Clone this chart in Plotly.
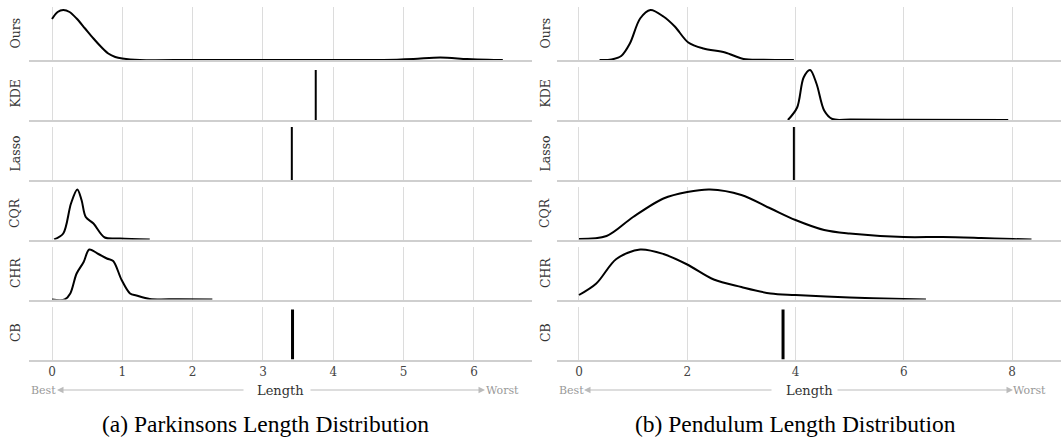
import plotly.graph_objects as go
from plotly.subplots import make_subplots

W, H = 1061, 443

methods = ["Ours", "KDE", "Lasso", "CQR", "CHR", "CB"]

# ---------- (a) Parkinsons ----------
a_ours_x = [0, 0.08, 0.16, 0.25, 0.35, 0.47, 0.59, 0.7, 0.8, 0.9, 1.0, 1.25, 2.0, 3.0, 4.0, 4.71, 5.14, 5.52, 5.9, 6.2, 6.41]
a_ours_y = [0.82, 0.96, 1.0, 0.96, 0.83, 0.63, 0.43, 0.26, 0.13, 0.06, 0.03, 0.0, 0, 0, 0, 0, 0.02, 0.05, 0.02, 0.005, 0]
a_kde_val = 3.75
a_lasso_val = 3.41
a_cqr_x = [0.03, 0.16, 0.27, 0.36, 0.42, 0.48, 0.59, 0.75, 0.97, 1.39]
a_cqr_y = [0, 0.12, 0.72, 1.0, 0.79, 0.45, 0.32, 0.04, 0.02, 0]
a_chr_x = [0, 0.18, 0.26, 0.35, 0.45, 0.53, 0.66, 0.78, 0.87, 0.99, 1.11, 1.2, 1.39, 1.8, 2.28]
a_chr_y = [0, 0.0, 0.12, 0.52, 0.75, 1.0, 0.91, 0.82, 0.77, 0.39, 0.12, 0.08, 0.01, 0.005, 0]
a_cb_val = 3.42
a_ticks = [0, 1, 2, 3, 4, 5, 6]

# ---------- (b) Pendulum ----------
b_ours_x = [0.38, 0.6, 0.78, 0.94, 1.13, 1.32, 1.56, 1.77, 2.02, 2.3, 2.7, 3.04, 3.41, 3.97]
b_ours_y = [0, 0.01, 0.08, 0.33, 0.83, 1.0, 0.87, 0.67, 0.35, 0.23, 0.15, 0.02, 0.005, 0]
b_kde_x = [3.86, 4.03, 4.15, 4.27, 4.39, 4.53, 4.68, 5.02, 5.89, 7.93]
b_kde_y = [0, 0.25, 0.85, 1.0, 0.72, 0.19, 0.02, 0.01, 0.005, 0]
b_lasso_val = 3.97
b_cqr_x = [0, 0.51, 1.0, 1.56, 2.0, 2.42, 3.0, 3.54, 4.0, 4.53, 5.0, 6.0, 6.72, 7.43, 8.02, 8.36]
b_cqr_y = [0.01, 0.07, 0.45, 0.82, 0.95, 1.0, 0.89, 0.62, 0.39, 0.19, 0.12, 0.05, 0.05, 0.03, 0.01, 0]
b_chr_x = [0, 0.32, 0.69, 1.13, 1.56, 2.0, 2.49, 3.0, 3.54, 4.0, 5.0, 6.0, 6.41]
b_chr_y = [0.09, 0.32, 0.81, 1.0, 0.91, 0.7, 0.4, 0.25, 0.12, 0.09, 0.04, 0.01, 0]
b_cb_val = 3.77
b_ticks = [0, 2, 4, 6, 8]

captions = ["(a) Parkinsons Length Distribution", "(b) Pendulum Length Distribution"]

# layout geometry (pixels)
x_dom_px = [(29, 532), (557, 1061)]
x_ranges = [(-0.327, 6.825), (-0.406, 8.905)]
baselines = [60, 120, 180, 239.5, 299.5, 359.5]
row_h = 53
YMAX = 1.06

fig = make_subplots(rows=6, cols=2)

def add_curve(r, c, xs, ys):
    fig.add_trace(go.Scatter(x=xs, y=ys, mode="lines",
                             line=dict(color="black", width=2, shape="spline", smoothing=0.9),
                             hoverinfo="skip", showlegend=False), row=r, col=c)

def add_vline(r, c, v, top, width):
    fig.add_trace(go.Scatter(x=[v, v], y=[0, top], mode="lines",
                             line=dict(color="black", width=width),
                             hoverinfo="skip", showlegend=False), row=r, col=c)

add_curve(1, 1, a_ours_x, a_ours_y)
add_vline(2, 1, a_kde_val, 1.0, 2)
add_vline(3, 1, a_lasso_val, YMAX, 2)
add_curve(4, 1, a_cqr_x, a_cqr_y)
add_curve(5, 1, a_chr_x, a_chr_y)
add_vline(6, 1, a_cb_val, 1.0, 3)

add_curve(1, 2, b_ours_x, b_ours_y)
add_curve(2, 2, b_kde_x, b_kde_y)
add_vline(3, 2, b_lasso_val, YMAX, 2)
add_curve(4, 2, b_cqr_x, b_cqr_y)
add_curve(5, 2, b_chr_x, b_chr_y)
add_vline(6, 2, b_cb_val, 1.0, 3)

serif = "DejaVu Serif, Liberation Serif, serif"
annotations = []
for r in range(6):
    base = baselines[r]
    ydom = [1 - base / H, 1 - (base - row_h) / H]
    for c in range(2):
        idx = r * 2 + c + 1
        xs = "" if idx == 1 else str(idx)
        ticks = a_ticks if c == 0 else b_ticks
        fig.layout["xaxis" + xs].update(
            domain=[x_dom_px[c][0] / W, x_dom_px[c][1] / W],
            range=list(x_ranges[c]),
            showgrid=True, gridcolor="#dcdcdc", gridwidth=1,
            zeroline=False, showline=True, linecolor="#cfcfcf", linewidth=1.5,
            tickmode="array", tickvals=ticks, ticktext=[str(t) for t in ticks],
            showticklabels=(r == 5), ticks="",
            tickfont=dict(family=serif, size=12, color="#444"),
        )
        fig.layout["yaxis" + xs].update(
            domain=ydom, range=[0, YMAX], showgrid=False, zeroline=False,
            showline=False, showticklabels=False, ticks="",
        )
        lx = 15 if c == 0 else 545
        annotations.append(dict(xref="paper", yref="paper", x=lx / W, y=(ydom[0] + ydom[1]) / 2,
                                text=methods[r], textangle=-90, showarrow=False,
                                font=dict(family=serif, size=12.5, color="#333"),
                                xanchor="center", yanchor="middle"))

y_len = 1 - 390 / H
panels = [
    dict(best=29, worst=521, head_l=57, tail_l=245, head_r=485, tail_r=309, cx=(29 + 532) / 2),
    dict(best=557, worst=1048, head_l=584, tail_l=773, head_r=1013, tail_r=836, cx=(557 + 1061) / 2),
]
for c, p in enumerate(panels):
    annotations.append(dict(xref="paper", yref="paper", x=p["cx"] / W, y=y_len, text="Length",
                            showarrow=False, font=dict(family=serif, size=13, color="#333"),
                            xanchor="center", yanchor="middle"))
    annotations.append(dict(xref="paper", yref="paper", x=p["best"] / W, y=y_len, text="Best",
                            showarrow=False, font=dict(family=serif, size=11, color="#999"),
                            xanchor="left", yanchor="middle"))
    annotations.append(dict(xref="paper", yref="paper", x=p["worst"] / W, y=y_len, text="Worst",
                            showarrow=False, font=dict(family=serif, size=11, color="#999"),
                            xanchor="right", yanchor="middle"))
    for head, tail in [(p["head_l"], p["tail_l"]), (p["head_r"], p["tail_r"])]:
        annotations.append(dict(xref="paper", yref="paper", x=head / W, y=y_len, text="",
                                showarrow=True, axref="pixel", ayref="pixel",
                                ax=tail - head, ay=0, arrowhead=2, arrowsize=1.3,
                                arrowwidth=1, arrowcolor="#bbbbbb", standoff=0))
    annotations.append(dict(xref="paper", yref="paper", x=(265 if c == 0 else 795.5) / W,
                            y=1 - 424 / H, text=captions[c], showarrow=False,
                            font=dict(family="Liberation Serif, serif", size=23.5, color="black"),
                            xanchor="center", yanchor="middle"))

fig.update_layout(
    width=W, height=H, margin=dict(l=0, r=0, t=0, b=0),
    paper_bgcolor="white", plot_bgcolor="white",
    annotations=annotations, showlegend=False,
)

fig.write_html("out.html")
